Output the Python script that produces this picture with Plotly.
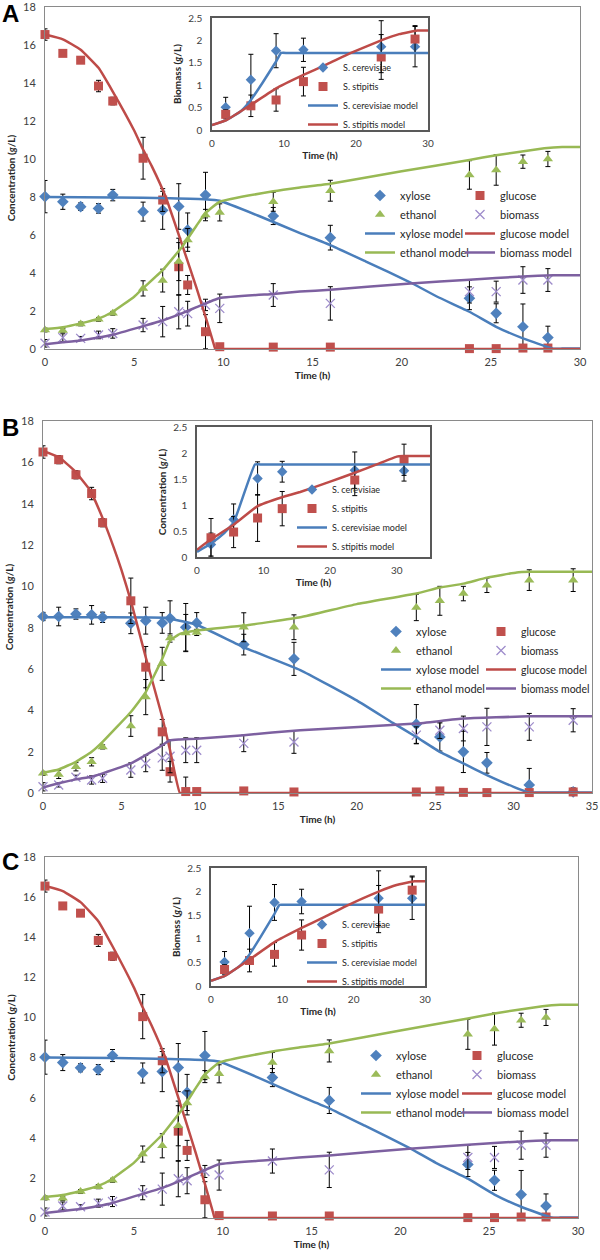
import plotly.graph_objects as go

W, H = 600, 1260

# ================= Panel A (and C, same experiment) : main =================
t_glu_A = [0, 1, 2, 3, 3.8, 5.5, 6.6, 7.5, 8, 9, 9.8, 12.8, 16, 23.8, 25.3, 26.8, 28.2]
glucose_A = [16.55, 15.56, 15.2, 13.84, 13.05, 10.04, 7.84, 4.33, 3.37, 0.91, 0.12, 0.1, 0.1, 0.02, 0.02, 0.05, 0.05]
glucose_err_A = [0.3, 0.1, 0.1, 0.3, 0.2, 1.1, 0.6, 1.5, 0.5, 0.9, 0.1, 0.05, 0.05, 0.05, 0.05, 0.05, 0.05]

t_xyl_A = [0, 1, 2, 3, 3.8, 5.5, 6.6, 7.5, 8, 9, 12.8, 16, 23.8, 25.3, 26.8, 28.2]
xylose_A = [8.02, 7.75, 7.49, 7.4, 8.1, 7.23, 7.3, 7.5, 6.26, 8.1, 7.0, 5.86, 2.67, 1.88, 1.17, 0.6]
xylose_err_A = [0.85, 0.4, 0.2, 0.25, 0.3, 0.5, 1.0, 1.2, 0.9, 1.2, 0.45, 0.65, 0.6, 0.5, 1.2, 0.6]

t_eth_A = [0, 1, 2, 3, 3.8, 5.5, 6.6, 7.5, 8, 9, 9.8, 12.8, 16, 23.8, 25.3, 26.8, 28.2]
ethanol_A = [1.0, 0.98, 1.32, 1.56, 1.88, 3.19, 3.6, 4.6, 5.74, 7.05, 7.19, 7.75, 8.33, 9.16, 9.42, 9.86, 10.0]
ethanol_err_A = [0.1, 0.1, 0.1, 0.1, 0.1, 0.4, 0.6, 1.0, 0.6, 0.3, 0.45, 0.5, 0.55, 0.75, 0.8, 0.35, 0.4]

t_bio_A = [0, 1, 2, 3, 3.8, 5.5, 6.6, 7.5, 8, 9, 9.8, 12.8, 16, 23.8, 25.3, 26.8, 28.2]
biomass_A = [0.3, 0.6, 0.56, 0.74, 0.82, 1.26, 1.44, 1.96, 1.86, 2.32, 2.14, 2.84, 2.4, 3.02, 3.02, 3.63, 3.63]
biomass_err_A = [0.2, 0.2, 0.1, 0.2, 0.25, 0.35, 0.8, 0.9, 0.65, 0.3, 0.75, 0.6, 0.88, 0.6, 0.55, 0.7, 0.6]

tm_glu_A = [0, 1, 2, 3, 3.8, 5, 5.5, 6, 6.77, 7.72, 8.5, 9, 9.45, 9.55, 10, 30]
glucose_model_A = [16.55, 16.3, 15.75, 14.8, 13.55, 11.5, 10.5, 9.6, 8.0, 5.4, 3.2, 1.7, 0.3, 0.0, 0.0, 0.0]
tm_xyl_A = [0, 4, 7, 9, 9.8, 12, 14.3, 16, 18, 20.5, 22, 23.8, 25.3, 26.8, 28.5, 29, 30]
xylose_model_A = [8.0, 7.98, 7.93, 7.88, 7.8, 7.0, 6.1, 5.47, 4.6, 3.5, 2.75, 1.96, 1.17, 0.56, 0.02, 0.02, 0.02]
tm_eth_A = [0, 1, 2, 3, 3.8, 5, 5.5, 6.6, 7.7, 8.5, 9, 9.8, 12.8, 14.3, 16, 20, 23.8, 25.3, 28, 29, 30]
ethanol_model_A = [1.05, 1.15, 1.35, 1.6, 1.96, 2.75, 3.2, 4.15, 5.4, 6.5, 7.15, 7.75, 8.3, 8.5, 8.7, 9.35, 9.95, 10.2, 10.56, 10.63, 10.63]
tm_bio_A = [0, 1, 2, 3, 3.8, 5.5, 6.6, 7.6, 8.5, 9.8, 12.8, 14.3, 16, 20.5, 23.8, 26.8, 28.5, 30]
biomass_model_A = [0.25, 0.35, 0.45, 0.6, 0.75, 1.2, 1.5, 1.85, 2.2, 2.68, 2.9, 3.02, 3.12, 3.45, 3.65, 3.82, 3.88, 3.88]

# Panel A inset
t_in_A = [1.9, 5.4, 8.9, 12.7, 23.5, 28.2]
scer_A = [0.51, 1.12, 1.77, 1.79, 1.86, 1.86]
scer_err_A = [0.22, 0.57, 0.38, 0.26, 0.58, 0.45]
ssti_A = [0.35, 0.54, 0.67, 1.08, 1.63, 2.03]
ssti_err_A = [0.1, 0.24, 0.25, 0.32, 0.5, 0.3]
tm_scer_A = [0, 2, 4, 5.4, 7, 8.9, 9.6, 10.5, 30]
scer_model_A = [0.11, 0.22, 0.42, 0.67, 1.05, 1.53, 1.72, 1.72, 1.72]
tm_ssti_A = [0, 2, 5.4, 8.9, 12.7, 16, 19.3, 23.5, 26, 28.5, 29.5, 30]
ssti_model_A = [0.11, 0.22, 0.56, 0.93, 1.23, 1.47, 1.72, 2.0, 2.14, 2.22, 2.22, 2.22]

# ================= Panel B : main =================
t_B = [0, 1, 2.1, 3.1, 3.8, 5.6, 6.55, 7.6, 8.1, 9.1, 9.8, 12.8, 16, 23.8, 25.3, 26.8, 28.3, 31, 33.8]
glucose_B = [16.5, 16.13, 15.4, 14.49, 13.08, 9.3, 6.09, 2.96, 1.03, 0.07, 0.07, 0.1, 0.05, 0.05, 0.1, 0.03, 0.02, 0.02, 0.05]
glucose_err_B = [0.3, 0.2, 0.2, 0.3, 0.2, 1.1, 1.0, 0.6, 0.5, 0.7, 0.05, 0.05, 0.05, 0.05, 0.05, 0.05, 0.05, 0.05, 0.1]
xylose_B = [8.54, 8.54, 8.66, 8.62, 8.5, 8.21, 8.34, 8.23, 8.45, 8.02, 8.23, 7.18, 6.49, 3.33, 2.71, 1.99, 1.46, 0.39, 0.05]
xylose_err_B = [0.2, 0.45, 0.25, 0.45, 0.25, 0.5, 0.65, 0.5, 0.85, 1.15, 0.5, 0.5, 0.8, 0.95, 0.68, 1.0, 0.5, 0.8, 0.2]
ethanol_B = [0.95, 0.9, 1.27, 1.51, 2.23, 3.24, 4.64, 6.25, 7.5, 7.74, 7.77, 8.02, 8.02, 8.98, 9.3, 9.65, 10.05, 10.3, 10.3]
ethanol_err_B = [0.1, 0.2, 0.2, 0.2, 0.1, 0.5, 0.85, 0.8, 0.2, 0.9, 0.15, 0.7, 0.6, 0.64, 0.7, 0.35, 0.35, 0.5, 0.55]
biomass_B = [0.3, 0.39, 0.76, 0.63, 0.71, 1.11, 1.43, 1.7, 1.78, 2.07, 2.07, 2.4, 2.47, 2.8, 3.04, 3.12, 3.2, 3.2, 3.52]
biomass_err_B = [0.2, 0.1, 0.1, 0.2, 0.2, 0.35, 0.4, 0.6, 0.8, 0.6, 0.6, 0.4, 0.55, 0.4, 0.4, 0.6, 0.9, 0.65, 0.56]

tm_glu_B = [0, 1, 2, 3, 3.8, 4.5, 5, 5.6, 6.55, 7.6, 8.1, 8.73, 9.2, 35]
glucose_model_B = [16.55, 16.25, 15.6, 14.65, 13.3, 11.9, 10.8, 9.3, 6.57, 3.68, 2.07, 0.0, 0.0, 0.0]
tm_xyl_B = [0, 4, 7.8, 8.3, 9.8, 12.8, 16.4, 20, 22.3, 23.8, 25.3, 26.8, 28.3, 30, 31, 31.5, 35]
xylose_model_B = [8.5, 8.5, 8.48, 8.4, 8.14, 7.05, 5.95, 4.48, 3.39, 2.71, 1.99, 1.43, 0.87, 0.3, 0.02, 0.02, 0.02]
tm_eth_B = [0, 1, 2.1, 3.1, 3.8, 5.6, 6.55, 7.6, 8.1, 8.73, 9.8, 12.8, 16.4, 20, 23.8, 25.3, 26.8, 28.3, 30.2, 31, 35]
ethanol_model_B = [0.98, 1.14, 1.51, 1.99, 2.47, 3.92, 4.88, 6.49, 7.37, 7.7, 7.86, 8.1, 8.5, 9.14, 9.65, 9.94, 10.13, 10.42, 10.67, 10.7, 10.7]
tm_bio_B = [0, 1, 2.1, 3.1, 3.8, 5.6, 6.55, 7.6, 8.1, 8.73, 9.8, 12.8, 16.4, 23.8, 26.8, 31, 35]
biomass_model_B = [0.26, 0.47, 0.66, 0.79, 0.95, 1.43, 1.83, 2.31, 2.55, 2.59, 2.63, 2.8, 3.04, 3.36, 3.6, 3.71, 3.71]

# Panel B inset
t_in_B = [2.1, 5.5, 9.1, 12.8, 23.7, 31.1]
scer_B = [0.24, 0.72, 1.51, 1.64, 1.67, 1.66]
scer_err_B = [0.22, 0.3, 0.32, 0.2, 0.35, 0.2]
ssti_B = [0.37, 0.48, 0.75, 0.93, 1.48, 1.87]
ssti_err_B = [0.37, 0.3, 0.45, 0.33, 0.3, 0.3]
tm_scer_B = [0, 2.1, 4, 5.5, 8.7, 9.5, 35]
scer_model_B = [0.1, 0.26, 0.45, 0.66, 1.78, 1.78, 1.78]
tm_ssti_B = [0, 2, 5.5, 9.1, 12.8, 15.5, 20, 23.7, 27, 30, 31, 35]
ssti_model_B = [0.14, 0.33, 0.62, 0.98, 1.15, 1.25, 1.45, 1.62, 1.78, 1.93, 1.94, 1.94]

main_ticks_30 = [0, 5, 10, 15, 20, 25, 30]
main_ticks_35 = [0, 5, 10, 15, 20, 25, 30, 35]
conc_ticks = [0, 2, 4, 6, 8, 10, 12, 14, 16, 18]
inset_xticks = [0, 10, 20, 30]
inset_yticks = [0, 0.5, 1, 1.5, 2, 2.5]

# ---------------- styles ----------------
BLUE_M, RED_M, GREEN_M, PURPLE_M = '#4F81BD', '#C0504D', '#9BBB59', '#9E8CCB'
BLUE_L, RED_L, GREEN_L, PURPLE_L = '#4A7EBB', '#BE4B48', '#98B954', '#7D60A0'
FONT = 'Lato, Open Sans, sans-serif'
ERR = dict(type='data', color='black', thickness=1, width=2.5)

fig = go.Figure()


def pts(x, y, err, name, symbol, color, size, xa, ya, lg):
    mk = dict(symbol=symbol, color=color, size=size)
    if symbol.startswith('x'):
        mk['line'] = dict(color=color, width=1.3)
    fig.add_trace(go.Scatter(x=x, y=y, mode='markers', name=name, marker=mk,
                             error_y=dict(array=err, **ERR), xaxis=xa, yaxis=ya,
                             legend=lg, cliponaxis=False))


def line(x, y, name, color, xa, ya, lg, width=2.5):
    fig.add_trace(go.Scatter(x=x, y=y, mode='lines', name=name,
                             line=dict(color=color, width=width, shape='spline', smoothing=0.35),
                             xaxis=xa, yaxis=ya, legend=lg))


def main_panel(xa, ya, l1, l2, xs, ys, es, ms):
    (tx, tg, te, tb), (vx, vg, ve, vb), (ex, eg, ee, eb) = xs, ys, es
    pts(tx, vx, ex, 'xylose', 'diamond', BLUE_M, 9, xa, ya, l1)
    pts(tg, vg, eg, 'glucose', 'square', RED_M, 9, xa, ya, l2)
    pts(te, ve, ee, 'ethanol', 'triangle-up', GREEN_M, 9, xa, ya, l1)
    pts(tb, vb, eb, 'biomass', 'x-thin', PURPLE_M, 9, xa, ya, l2)
    (mtx, mvx), (mtg, mvg), (mte, mve), (mtb, mvb) = ms
    line(mtx, mvx, 'xylose model', BLUE_L, xa, ya, l1)
    line(mtg, mvg, 'glucose model', RED_L, xa, ya, l2)
    line(mte, mve, 'ethanol model', GREEN_L, xa, ya, l1)
    line(mtb, mvb, 'biomass model', PURPLE_L, xa, ya, l2)


def inset_panel(xa, ya, lg, t, sc, sce, ss, sse, mts, mvs, mtt, mvt):
    pts(t, sc, sce, 'S. cerevisiae', 'diamond', BLUE_M, 8, xa, ya, lg)
    pts(t, ss, sse, 'S. stipitis', 'square', RED_M, 9, xa, ya, lg)
    line(mts, mvs, 'S. cerevisiae model', BLUE_L, xa, ya, lg)
    line(mtt, mvt, 'S. stipitis model', RED_L, xa, ya, lg)


# Panel A
main_panel('x', 'y', 'legend', 'legend2',
           (t_xyl_A, t_glu_A, t_eth_A, t_bio_A),
           (xylose_A, glucose_A, ethanol_A, biomass_A),
           (xylose_err_A, glucose_err_A, ethanol_err_A, biomass_err_A),
           ((tm_xyl_A, xylose_model_A), (tm_glu_A, glucose_model_A),
            (tm_eth_A, ethanol_model_A), (tm_bio_A, biomass_model_A)))
inset_panel('x2', 'y2', 'legend3', t_in_A, scer_A, scer_err_A, ssti_A, ssti_err_A,
            tm_scer_A, scer_model_A, tm_ssti_A, ssti_model_A)
# Panel B
main_panel('x3', 'y3', 'legend4', 'legend5',
           (t_B, t_B, t_B, t_B),
           (xylose_B, glucose_B, ethanol_B, biomass_B),
           (xylose_err_B, glucose_err_B, ethanol_err_B, biomass_err_B),
           ((tm_xyl_B, xylose_model_B), (tm_glu_B, glucose_model_B),
            (tm_eth_B, ethanol_model_B), (tm_bio_B, biomass_model_B)))
inset_panel('x4', 'y4', 'legend6', t_in_B, scer_B, scer_err_B, ssti_B, ssti_err_B,
            tm_scer_B, scer_model_B, tm_ssti_B, ssti_model_B)
# Panel C (same data as A)
main_panel('x5', 'y5', 'legend7', 'legend8',
           (t_xyl_A, t_glu_A, t_eth_A, t_bio_A),
           (xylose_A, glucose_A, ethanol_A, biomass_A),
           (xylose_err_A, glucose_err_A, ethanol_err_A, biomass_err_A),
           ((tm_xyl_A, xylose_model_A), (tm_glu_A, glucose_model_A),
            (tm_eth_A, ethanol_model_A), (tm_bio_A, biomass_model_A)))
inset_panel('x6', 'y6', 'legend9', t_in_A, scer_A, scer_err_A, ssti_A, ssti_err_A,
            tm_scer_A, scer_model_A, tm_ssti_A, ssti_model_A)


def xd(l, r):
    return [l / W, r / W]


def yd(bottom, top):
    return [1 - bottom / H, 1 - top / H]


TICKF = dict(family=FONT, size=11, color='#404040')
TICKF_S = dict(family=FONT, size=10, color='#404040')
TITF = dict(family=FONT, size=10, color='#262626', weight='bold')


def xaxis(dom, rng, ticks, anchor, small=False):
    return dict(domain=dom, range=rng, tickvals=ticks, anchor=anchor, showgrid=False,
                zeroline=False, showline=True, mirror=True, automargin=False,
                ticklabeloverflow='allow',
                linecolor='#595959' if small else '#8A8A8A', linewidth=1.5 if small else 1,
                tickfont=TICKF_S if small else TICKF, ticks='', ticklen=0, ticklabelstandoff=3,
                title=dict(text='Time (h)', font=TITF, standoff=4))


def yaxis(dom, rng, ticks, anchor, title, small=False):
    return dict(domain=dom, range=rng, tickvals=ticks, anchor=anchor, showgrid=False,
                zeroline=False, showline=True, mirror=True, automargin=False,
                ticklabeloverflow='allow',
                linecolor='#595959' if small else '#8A8A8A', linewidth=1.5 if small else 1,
                tickfont=TICKF_S if small else TICKF, ticks='', ticklen=0, ticklabelstandoff=6,
                title=dict(text=title, font=TITF, standoff=5))


CONC = 'Concentration (<i>g</i>/L)'
BIOM = 'Biomass (<i>g</i>/L)'

layout = dict(
    width=W, height=H, margin=dict(l=0, r=0, t=0, b=0, autoexpand=False),
    paper_bgcolor='white', plot_bgcolor='rgba(0,0,0,0)',
    font=dict(family=FONT, color='#262626'),
    xaxis=xaxis(xd(45, 580), [0, 30], main_ticks_30, 'y'),
    yaxis=yaxis(yd(349, 7), [0, 18], conc_ticks, 'x', CONC),
    xaxis2=xaxis(xd(212, 428), [0, 30], inset_xticks, 'y2', True),
    yaxis2=yaxis(yd(130, 18), [0, 2.5], inset_yticks, 'x2', BIOM, True),
    xaxis3=xaxis(xd(43, 592), [0, 35], main_ticks_35, 'y3'),
    yaxis3=yaxis(yd(793, 421), [0, 18], conc_ticks, 'x3', CONC),
    xaxis4=xaxis(xd(197, 430), [0, 35], inset_xticks, 'y4', True),
    yaxis4=yaxis(yd(557, 427), [0, 2.5], inset_yticks, 'x4', CONC, True),
    xaxis5=xaxis(xd(45, 578), [0, 30], main_ticks_30, 'y5'),
    yaxis5=yaxis(yd(1218, 857), [0, 18], conc_ticks, 'x5', CONC),
    xaxis6=xaxis(xd(211, 425), [0, 30], inset_xticks, 'y6', True),
    yaxis6=yaxis(yd(986, 868), [0, 2.5], inset_yticks, 'x6', BIOM, True),
)


def leg(left, top, size):
    return dict(x=left / W, y=1 - top / H, xanchor='left', yanchor='top',
                bgcolor='rgba(0,0,0,0)', borderwidth=0, tracegroupgap=0,
                itemwidth=30, font=dict(family=FONT, size=size, color='#262626'))


layout['legend'] = leg(360, 181, 11)
layout['legend2'] = leg(460, 181, 11)
layout['legend3'] = leg(303, 53, 9)
layout['legend4'] = leg(376, 617, 11)
layout['legend5'] = leg(481, 617, 10.5)
layout['legend6'] = leg(292, 475, 9)
layout['legend7'] = leg(356, 1041, 11)
layout['legend8'] = leg(457, 1041, 11)
layout['legend9'] = leg(302, 910, 9)

ann = []
for letter, mid in [('A', 14), ('B', 427), ('C', 861)]:
    ann.append(dict(text='<b>%s</b>' % letter, x=0, y=1 - mid / H, xref='paper', yref='paper',
                    xanchor='left', yanchor='middle', showarrow=False,
                    font=dict(family='Liberation Sans, Arial, sans-serif', size=24, color='black')))
layout['annotations'] = ann

fig.update_layout(**layout)
fig.write_html('out.html', config={'displayModeBar': False},
               post_script="document.body.style.margin='0';document.body.style.padding='0';")
